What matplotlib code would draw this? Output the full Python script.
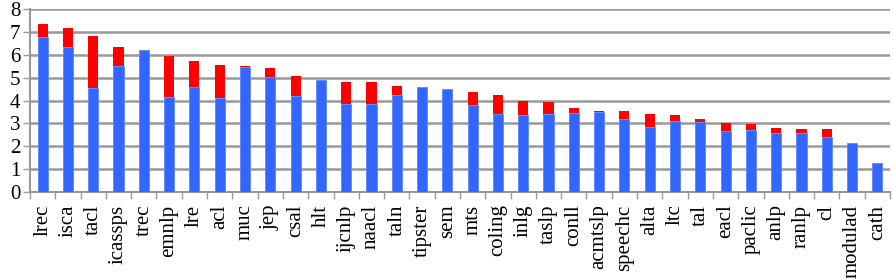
import numpy as np
import matplotlib.pyplot as plt
from matplotlib.ticker import FixedLocator

venues = ['lrec', 'isca', 'tacl', 'icassps', 'trec', 'emnlp', 'lre', 'acl', 'muc', 'jep',
          'csal', 'hlt', 'ijcnlp', 'naacl', 'taln', 'tipster', 'sem', 'mts', 'coling', 'inlg',
          'taslp', 'conll', 'acmtslp', 'speechc', 'alta', 'ltc', 'tal', 'eacl', 'paclic', 'anlp',
          'ranlp', 'cl', 'modulad', 'cath']
blue_vals = [6.79, 6.33, 4.53, 5.52, 6.20, 4.17, 4.59, 4.13, 5.47, 5.03,
             4.18, 4.88, 3.85, 3.85, 4.24, 4.58, 4.52, 3.82, 3.43, 3.37,
             3.43, 3.45, 3.51, 3.18, 2.84, 3.09, 3.08, 2.67, 2.70, 2.59,
             2.59, 2.41, 2.13, 1.27]
totals = [7.35, 7.17, 6.82, 6.36, 6.20, 5.93, 5.71, 5.54, 5.50, 5.44,
          5.09, 4.88, 4.80, 4.80, 4.64, 4.58, 4.52, 4.37, 4.26, 3.98,
          3.92, 3.66, 3.56, 3.54, 3.43, 3.37, 3.18, 3.00, 2.97, 2.80,
          2.74, 2.74, 2.13, 1.27]
red_vals = [t - b for t, b in zip(totals, blue_vals)]

plt.rcParams['font.family'] = ['Liberation Serif', 'DejaVu Serif']

fig = plt.figure(figsize=(8.93, 2.79), dpi=100)
ax = fig.add_axes([30 / 893, 1 - 192 / 279, 860 / 893, 183 / 279])

x = np.arange(len(venues))
ax.bar(x, blue_vals, width=0.4, color='#3366ff', edgecolor='#5c85ff', linewidth=0.6, zorder=3)
ax.bar(x, red_vals, bottom=blue_vals, width=0.4, color='#ff0000', linewidth=0, zorder=3)

ax.set_xlim(-0.5, len(venues) - 0.5)
ax.set_ylim(0, 8)
ax.set_yticks(range(0, 9))
ax.yaxis.grid(True, color='#999999', linewidth=1.8, zorder=0)
ax.set_axisbelow(True)

ax.set_xticks(x)
ax.set_xticklabels(venues, rotation=90, fontsize=15)
ax.tick_params(axis='x', which='major', length=0, pad=9)
ax.xaxis.set_minor_locator(FixedLocator(np.arange(-0.5, len(venues), 1.0)))
ax.tick_params(axis='x', which='minor', length=5, color='#999999', width=1)
ax.tick_params(axis='y', labelsize=15, length=5, color='#999999', width=1, pad=2)

for s in ['top', 'right']:
    ax.spines[s].set_visible(False)
for s in ['left', 'bottom']:
    ax.spines[s].set_color('#999999')
    ax.spines[s].set_linewidth(1.5)

fig.savefig('out.png', dpi=100)
